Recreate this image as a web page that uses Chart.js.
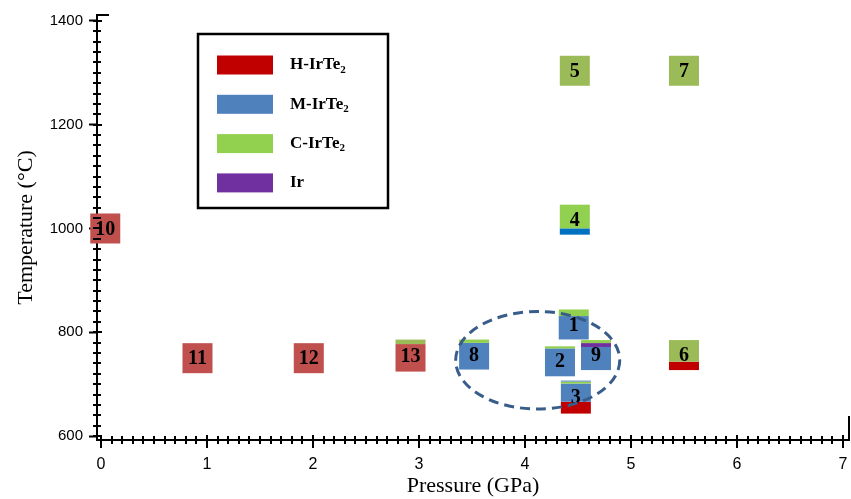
<!DOCTYPE html>
<html>
<head>
<meta charset="utf-8">
<title>IrTe2 phases vs. pressure and temperature</title>
<script src="https://cdn.jsdelivr.net/npm/chart.js@4.4.1/dist/chart.umd.min.js"></script>
<style>
  html, body { margin: 0; padding: 0; background: #fff; }
  #wrap { width: 851px; height: 499px; }
</style>
</head>
<body>
<div id="wrap"><canvas id="phaseChart" width="851" height="499"></canvas></div>
<script>
// synthesis runs: run number, pressure (GPa), temperature (°C)
const runNo       = ['1', '2', '3', '4', '5', '6', '7', '8', '9', '10', '11', '12', '13'];
const pressure    = [4.46, 4.33, 4.48, 4.47, 4.47, 5.50, 5.50, 3.52, 4.67, 0.04, 0.91, 1.96, 2.92];
const temperature = [815, 744, 675, 1017, 1304, 756, 1304, 757, 756, 1000, 750, 750, 755];

// phase fractions found in each run, listed from bottom to top of the marker
const composition = [
  [['M', 0.78], ['C', 0.22]],
  [['M', 0.93], ['C', 0.07]],
  [['H', 0.36], ['M', 0.55], ['C', 0.06], ['M', 0.03]],
  [['Mx', 0.21], ['C', 0.79]],
  [['Cx', 1]],
  [['H', 0.28], ['Cx', 0.72]],
  [['Cx', 1]],
  [['M', 0.89], ['C', 0.11]],
  [['M', 0.77], ['Ir', 0.13], ['C', 0.10]],
  [['Hx', 1]],
  [['Hx', 1]],
  [['Hx', 1]],
  [['Hx', 0.86], ['Cx', 0.14]]
];

const xTicks = [0, 1, 2, 3, 4, 5, 6, 7];
const yTicks = [600, 800, 1000, 1200, 1400];

// legend entries: key, name, subscript
const legendKeys  = ['H', 'M', 'C', 'Ir'];
const legendNames = ['H-IrTe', 'M-IrTe', 'C-IrTe', 'Ir'];
const legendSubs  = ['2', '2', '2', ''];

// fills; the "x" keys are the other shades used on some markers
const phaseColors = {
  H: '#C00000', M: '#4F81BD', C: '#92D050', Ir: '#7030A0',
  Hx: '#C0504D', Cx: '#9BBB59', Mx: '#0070C0'
};
const markerW = 30;
const markerH = [30, 30, 33, 30, 30, 30, 30, 30, 30, 30, 30, 30, 32];

// tick marks crossing both axes (x major ticks included, the scale's own are hidden)
const axisTicks = {
  id: 'axisTicks',
  afterDraw(chart) {
    const { ctx, chartArea: a, scales: { x, y } } = chart;
    ctx.save();
    ctx.strokeStyle = '#000';
    ctx.lineWidth = 2;
    ctx.beginPath();
    for (let k = 0; k <= 70; k++) {
      const px = Math.round(x.getPixelForValue(k / 10));
      const major = k % 10 === 0;
      ctx.moveTo(px, a.bottom - (major ? 5 : 4));
      ctx.lineTo(px, a.bottom + (major ? 8 : 4));
    }
    for (let k = 0; k <= 40; k++) {
      const py = Math.round(y.getPixelForValue(600 + k * 20));
      const major = k % 10 === 0;
      ctx.moveTo(a.left - 4, py);
      ctx.lineTo(a.left + (major ? 5 : 4), py);
    }
    // short caps at the ends of the axes
    ctx.moveTo(a.left - 1, a.top);
    ctx.lineTo(a.left + 12, a.top);
    ctx.moveTo(a.right, a.bottom + 1);
    ctx.lineTo(a.right, a.bottom - 24);
    ctx.stroke();
    ctx.restore();
  }
};

// stacked phase squares, run numbers and the dashed ring round the 4-5 GPa runs
const phaseMarkers = {
  id: 'phaseMarkers',
  afterDatasetsDraw(chart) {
    const { ctx, scales: { x, y } } = chart;
    const meta = chart.getDatasetMeta(0);
    ctx.save();
    meta.data.forEach((pt, i) => {
      const h = markerH[i];
      let yb = pt.y + h / 2;
      composition[i].forEach(([key, frac]) => {
        const seg = h * frac;
        ctx.fillStyle = phaseColors[key];
        ctx.fillRect(pt.x - markerW / 2, yb - seg, markerW, seg);
        yb -= seg;
      });
      ctx.fillStyle = '#000';
      ctx.font = 'bold 20px "Liberation Serif", "Times New Roman", serif';
      ctx.textAlign = 'center';
      ctx.textBaseline = 'middle';
      ctx.fillText(runNo[i], pt.x, pt.y + 1);
    });

    const cx = x.getPixelForValue(4.12), cy = y.getPixelForValue(746);
    const rx = x.getPixelForValue(4.12 + 0.774) - cx;
    const ry = cy - y.getPixelForValue(746 + 94);
    ctx.beginPath();
    ctx.ellipse(cx, cy, rx, ry, 0, 0, Math.PI * 2);
    ctx.setLineDash([10, 6]);
    ctx.lineWidth = 3;
    ctx.strokeStyle = '#385D8A';
    ctx.stroke();
    ctx.restore();
  }
};

// boxed legend inside the plot
const legendBox = {
  id: 'legendBox',
  afterDraw(chart) {
    const { ctx } = chart;
    ctx.save();
    ctx.lineWidth = 2.5;
    ctx.strokeStyle = '#000';
    ctx.strokeRect(198, 34, 190, 174);
    legendKeys.forEach((key, i) => {
      const cy = 65 + i * 39.3;
      ctx.fillStyle = phaseColors[key];
      ctx.fillRect(217, cy - 9.5, 56, 19);
      ctx.fillStyle = '#000';
      ctx.textBaseline = 'middle';
      ctx.textAlign = 'left';
      ctx.font = 'bold 17px "Liberation Serif", "Times New Roman", serif';
      ctx.fillText(legendNames[i], 290, cy);
      if (legendSubs[i]) {
        const w = ctx.measureText(legendNames[i]).width;
        ctx.font = 'bold 11px "Liberation Serif", "Times New Roman", serif';
        ctx.fillText(legendSubs[i], 290 + w, cy + 5);
      }
    });
    ctx.restore();
  }
};

const axisFont = '"Liberation Sans", Arial, sans-serif';
const titleFont = '"Liberation Serif", "Times New Roman", serif';

new Chart(document.getElementById('phaseChart').getContext('2d'), {
  type: 'scatter',
  data: {
    datasets: [{
      data: pressure.map((p, i) => ({ x: p, y: temperature[i] })),
      pointRadius: 0,
      pointHoverRadius: 0
    }]
  },
  options: {
    responsive: false,
    animation: false,
    events: [],
    layout: { padding: { top: 14, right: 2, left: 0, bottom: 0 } },
    plugins: { legend: { display: false }, tooltip: { enabled: false } },
    scales: {
      x: {
        type: 'linear',
        min: -0.038,
        max: 7.057,
        afterBuildTicks: s => { s.ticks = xTicks.map(v => ({ value: v })); },
        afterFit: s => { s.height = 59; },
        grid: { display: true, drawOnChartArea: false, drawTicks: true, tickLength: 13, tickWidth: 2, tickColor: 'rgba(0,0,0,0)' },
        border: { display: true, color: '#000', width: 2 },
        ticks: {
          color: '#000', padding: 2, maxRotation: 0, autoSkip: false,
          callback: v => String(v),
          font: { family: '"Liberation Sans Narrow", ' + axisFont, size: 16 }
        },
        title: { display: true, text: 'Pressure (GPa)', color: '#000', padding: 0, font: { family: titleFont, size: 22 } }
      },
      y: {
        type: 'linear',
        min: 592.3,
        max: 1411.5,
        afterBuildTicks: s => { s.ticks = yTicks.map(v => ({ value: v })); },
        afterFit: s => { s.width = 97; },
        grid: { display: true, drawOnChartArea: false, drawTicks: true, tickLength: 8, tickWidth: 2, tickColor: '#000' },
        border: { display: true, color: '#000', width: 2 },
        ticks: { color: '#000', padding: 6, callback: v => String(v), font: { family: axisFont, size: 15 } },
        title: { display: true, text: 'Temperature (°C)', color: '#000', padding: { top: 13, bottom: 0 }, font: { family: titleFont, size: 22 } }
      }
    }
  },
  plugins: [axisTicks, phaseMarkers, legendBox]
});
</script>
</body>
</html>
